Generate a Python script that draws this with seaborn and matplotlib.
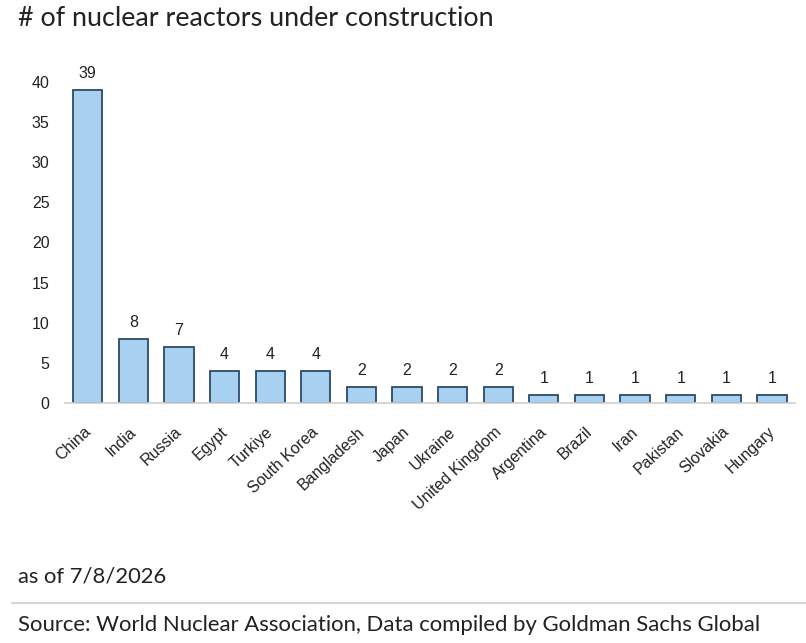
import matplotlib
matplotlib.use("Agg")
import matplotlib.pyplot as plt
import matplotlib.transforms as mtransforms
import pandas as pd
import seaborn as sns

countries = ["China", "India", "Russia", "Egypt", "Turkiye", "South Korea",
             "Bangladesh", "Japan", "Ukraine", "United Kingdom", "Argentina",
             "Brazil", "Iran", "Pakistan", "Slovakia", "Hungary"]
reactors = [39, 8, 7, 4, 4, 4, 2, 2, 2, 2, 1, 1, 1, 1, 1, 1]
y_ticks = [0, 5, 10, 15, 20, 25, 30, 35, 40]

title = "# of nuclear reactors under construction"
note = "as of 7/8/2026"
source = "Source: World Nuclear Association, Data compiled by Goldman Sachs Global"

df = pd.DataFrame({"country": countries, "reactors": reactors})

sns.set_style("white")
plt.rcParams["font.family"] = ["Liberation Sans", "DejaVu Sans"]

fig = plt.figure(figsize=(8.06, 6.43), dpi=100)
ax = fig.add_axes([0.0806, 0.3733, 0.9054, 0.4992])

sns.barplot(data=df, x="country", y="reactors", ax=ax, color="#a8d1f1",
            edgecolor="#2b4a68", linewidth=1.3, width=0.64, saturation=1)

# value labels above bars
for i, v in enumerate(reactors):
    ax.text(i, v + 1.1, str(v), ha="center", va="bottom", fontsize=11.5,
            color="#222222", clip_on=False)

ax.set_ylim(0, 40)
ax.set_xlim(-0.5, len(countries) - 0.5)
ax.set_yticks(y_ticks)
ax.tick_params(axis="y", length=0, labelsize=11.5, pad=11, labelcolor="#222222")
ax.tick_params(axis="x", length=0, labelsize=11.5, pad=8, labelcolor="#222222")
# nudge rotated labels so their upper end sits just below each bar
shift = mtransforms.ScaledTranslation(-0.045, -0.10, fig.dpi_scale_trans)
for lbl in ax.get_xticklabels():
    lbl.set_rotation(43)
    lbl.set_ha("right")
    lbl.set_rotation_mode("anchor")
    lbl.set_transform(lbl.get_transform() + shift)
ax.set_xlabel("")
ax.set_ylabel("")
for side in ["top", "right", "left"]:
    ax.spines[side].set_visible(False)
ax.spines["bottom"].set_color("#cfcfcf")
ax.spines["bottom"].set_linewidth(1.2)

txt_font = ["Lato", "DejaVu Sans"]
fig.text(0.022, 0.972, title, fontsize=19.4, family=txt_font,
         color="#222222", va="center", ha="left")
fig.text(0.022, 0.103, note, fontsize=15.8, family=txt_font,
         color="#222222", va="center", ha="left")
fig.add_artist(plt.Line2D([0.015, 1.0], [0.062, 0.062], color="#d6d6d6",
                          linewidth=1.5, transform=fig.transFigure))
fig.text(0.022, 0.028, source, fontsize=15.9, family=txt_font,
         color="#222222", va="center", ha="left")

fig.savefig("out.png", dpi=100, facecolor="white")
